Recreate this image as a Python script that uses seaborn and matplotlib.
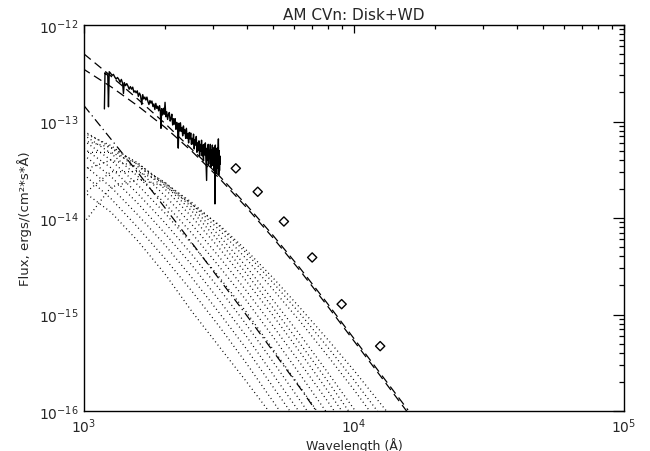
import numpy as np
import pandas as pd
import matplotlib
matplotlib.use("Agg")
import matplotlib.pyplot as plt
import seaborn as sns
from matplotlib.ticker import FixedLocator, NullFormatter, LogFormatterMathtext

# ---------------- data ----------------
title = "AM CVn: Disk+WD"
xlabel = "Wavelength (Å)"
ylabel = "Flux, ergs/(cm²*s*Å)"

# observed UV spectrum (wavelength in Å, flux in 1e-14 erg/cm2/s/Å)
spec_wl = [1190, 1196, 1205, 1215, 1225, 1232, 1240, 1255, 1270, 1285, 1300, 1315,
           1330, 1345, 1360, 1375, 1390, 1400, 1410, 1425, 1440, 1455, 1470, 1485,
           1500, 1515, 1530, 1545, 1560, 1575, 1590, 1605, 1620, 1636, 1650, 1665,
           1680, 1695, 1710, 1725, 1740, 1755, 1770, 1785, 1800, 1815, 1830, 1845,
           1860, 1875, 1890, 1905, 1918, 1928, 1940, 1955, 1970, 1983, 1996, 2010,
           2025, 2040, 2055, 2070, 2085, 2100, 2115, 2130, 2145, 2160, 2175, 2190,
           2205, 2220, 2234, 2248, 2262, 2276, 2290, 2305, 2320, 2335, 2350, 2365,
           2380, 2395, 2410, 2425, 2440, 2455, 2470, 2485, 2500, 2515, 2530, 2545,
           2560, 2575, 2590, 2605, 2620, 2635, 2650, 2665, 2680, 2695, 2710, 2725,
           2740, 2755, 2770, 2785, 2800, 2815, 2830, 2845, 2858, 2871, 2884, 2897,
           2910, 2923, 2936, 2949, 2962, 2975, 2988, 3000, 3012, 3024, 3036, 3048,
           3055, 3064, 3076, 3088, 3100, 3112, 3124, 3136, 3146, 3156, 3166, 3176,
           3184, 3190]
spec_flux = [13.5, 32.0, 30.8, 31.2, 29.6, 14.2, 32.8, 31.6, 30.0, 30.8, 28.9, 27.5,
             28.6, 27.4, 25.5, 27.3, 24.9, 19.5, 25.3, 23.5, 24.7, 23.3, 21.6, 23.0,
             21.6, 22.7, 20.1, 20.8, 19.8, 20.8, 18.2, 19.7, 18.6, 15.0, 19.0, 17.1,
             17.9, 16.7, 17.9, 16.1, 15.0, 16.5, 15.5, 16.3, 14.3, 15.2, 13.3, 15.4,
             13.7, 14.4, 12.9, 14.6, 12.7, 8.5, 13.6, 11.7, 13.7, 11.9, 15.8, 11.2,
             12.6, 10.5, 11.8, 12.4, 10.1, 10.7, 11.9, 9.2, 10.7, 9.4, 10.7, 8.3,
             9.8, 8.9, 5.3, 9.6, 8.0, 9.7, 7.9, 8.6, 7.1, 9.0, 7.5, 8.2,
             6.7, 8.5, 6.7, 7.5, 6.0, 7.7, 6.6, 7.6, 5.8, 6.7, 5.85, 7.4,
             5.2, 6.5, 5.7, 7.0, 4.8, 6.0, 5.0, 6.3, 4.4, 5.8, 4.9, 6.4,
             4.4, 5.7, 3.9, 5.8, 4.5, 6.0, 3.9, 2.45, 5.3, 4.0, 5.8, 3.6,
             5.0, 4.2, 5.8, 3.35, 5.1, 3.75, 5.7, 3.5, 5.2, 3.1, 5.4, 3.6,
             1.4, 5.7, 3.3, 5.0, 2.9, 5.3, 3.3, 4.9, 6.6, 2.8, 5.0, 3.1,
             4.4, 3.6]

# photometry (UBVRIJ), Å and erg/cm2/s/Å
phot_wl = [3650, 4400, 5500, 7000, 9000, 12500]
phot_flux = [3.27e-14, 1.87e-14, 9.2e-15, 3.9e-15, 1.28e-15, 4.7e-16]

# model curves: log10(wavelength) grid and log10(flux) values
model_logwl = [3.0, 3.1, 3.2, 3.3, 3.4, 3.5, 3.6, 3.7, 3.8, 3.9, 4.0, 4.1, 4.2]
total_a = [-12.30, -12.53, -12.77, -13.02, -13.29, -13.56, -13.86, -14.18, -14.52, -14.88, -15.25, -15.62, -15.99]
total_b = [-12.46, -12.64, -12.84, -13.06, -13.31, -13.585, -13.885, -14.205, -14.545, -14.905, -15.275, -15.645, -16.02]
wd_logwl = [3.0, 3.2, 3.4, 3.6, 3.8, 3.86]
wd_logflux = [-12.836, -13.53, -14.26, -15.00, -15.76, -16.00]

ring_logflux = [
    [-13.73, -13.94, -14.24, -14.58, -14.97, -15.33, -15.69, -16.06],
    [-13.55, -13.80, -14.10, -14.42, -14.76, -15.12, -15.50, -15.90, -16.30],
    [-13.45, -13.68, -13.97, -14.28, -14.62, -14.98, -15.35, -15.75, -16.15],
    [-13.35, -13.57, -13.85, -14.16, -14.49, -14.85, -15.22, -15.62, -16.02],
    [-13.28, -13.48, -13.75, -14.05, -14.38, -14.73, -15.10, -15.49, -15.89, -16.30],
    [-13.20, -13.40, -13.66, -13.95, -14.27, -14.61, -14.97, -15.36, -15.75, -16.15],
    [-13.14, -13.33, -13.57, -13.85, -14.16, -14.50, -14.85, -15.23, -15.62, -16.02],
    [-13.10, -13.27, -13.50, -13.77, -14.07, -14.40, -14.75, -15.12, -15.50, -15.89, -16.30],
    [-13.12, -13.25, -13.45, -13.70, -13.99, -14.31, -14.65, -15.01, -15.39, -15.78, -16.18],
    [-13.20, -13.27, -13.43, -13.66, -13.93, -14.24, -14.57, -14.93, -15.30, -15.68, -16.08],
    [-13.32, -13.32, -13.44, -13.64, -13.89, -14.18, -14.50, -14.85, -15.21, -15.59, -15.98, -16.38],
    [-13.50, -13.40, -13.47, -13.63, -13.86, -14.12, -14.42, -14.74, -15.07, -15.42, -15.78, -16.16],
    [-13.75, -13.52, -13.52, -13.64, -13.84, -14.08, -14.36, -14.67, -14.99, -15.33, -15.68, -16.05],
    [-14.05, -13.68, -13.60, -13.67, -13.86, -14.07, -14.33, -14.62, -14.93, -15.25, -15.58, -15.93, -16.28],
]

x_major = [1e3, 1e4, 1e5]
y_major = [1e-16, 1e-15, 1e-14, 1e-13, 1e-12]

# ---------------- style ----------------
sns.set_theme(style="white")
plt.rcParams['font.family'] = ['DejaVu Sans']
plt.rcParams['mathtext.fontset'] = 'dejavusans'

fig = plt.figure(figsize=(6.5, 4.52), dpi=100)
ax = fig.add_axes([84 / 650, 1 - 412 / 452, (624 - 84) / 650, (412 - 26) / 452])
ax.set_facecolor("white")

# dotted disk rings
for vals in ring_logflux:
    n = len(vals)
    wl = [10 ** v for v in model_logwl[:n]]
    fl = [10 ** v for v in vals]
    sns.lineplot(x=wl, y=fl, ax=ax, color="black", lw=0.9,
                 linestyle=(0, (0.8, 2.4)), estimator=None, sort=False)

# white dwarf (dash-dot)
sns.lineplot(x=[10 ** v for v in wd_logwl], y=[10 ** v for v in wd_logflux], ax=ax,
             color="black", lw=0.9, linestyle=(0, (7, 3, 1, 3)), estimator=None, sort=False)

# totals (dashed)
for vals, phase in ((total_a, 0), (total_b, 1.5)):
    sns.lineplot(x=[10 ** v for v in model_logwl], y=[10 ** v for v in vals], ax=ax,
                 color="black", lw=0.9, linestyle=(phase, (7, 4)), estimator=None, sort=False)

# spectrum
sns.lineplot(x=spec_wl, y=[f * 1e-14 for f in spec_flux], ax=ax, color="black",
             lw=1.0, estimator=None, sort=False)

# photometry
sns.scatterplot(x=phot_wl, y=phot_flux, ax=ax, marker="D", s=22,
                facecolor="none", edgecolor="black", linewidth=1.0, zorder=5)

ax.set_xscale("log")
ax.set_yscale("log")
ax.set_xlim(1e3, 1e5)
ax.set_ylim(1e-16, 1e-12)

for side in ax.spines.values():
    side.set_color("black")
    side.set_linewidth(1.0)

x_minor = [m * d for d in (1e3, 1e4) for m in range(2, 10)]
y_minor = [m * d for d in (1e-16, 1e-15, 1e-14, 1e-13) for m in range(2, 10)]
ax.xaxis.set_major_locator(FixedLocator(x_major))
ax.yaxis.set_major_locator(FixedLocator(y_major))
ax.xaxis.set_minor_locator(FixedLocator(x_minor))
ax.yaxis.set_minor_locator(FixedLocator(y_minor))
ax.xaxis.set_major_formatter(LogFormatterMathtext())
ax.yaxis.set_major_formatter(LogFormatterMathtext())
ax.xaxis.set_minor_formatter(NullFormatter())
ax.yaxis.set_minor_formatter(NullFormatter())
ax.tick_params(which="both", direction="in", top=True, right=True, color="black",
               labelsize=10, width=0.9)
ax.tick_params(axis="y", which="major", length=7.8, pad=4)
ax.tick_params(axis="y", which="minor", length=3.9)
ax.tick_params(axis="x", which="major", length=5.5, pad=4)
ax.tick_params(axis="x", which="minor", length=2.8)

ax.set_xlabel(xlabel, fontsize=9, labelpad=1)
ax.set_ylabel(ylabel, fontsize=9.5, labelpad=5)
ax.set_title(title, fontsize=11, pad=4)

fig.savefig("out.png", dpi=100, facecolor="white")
